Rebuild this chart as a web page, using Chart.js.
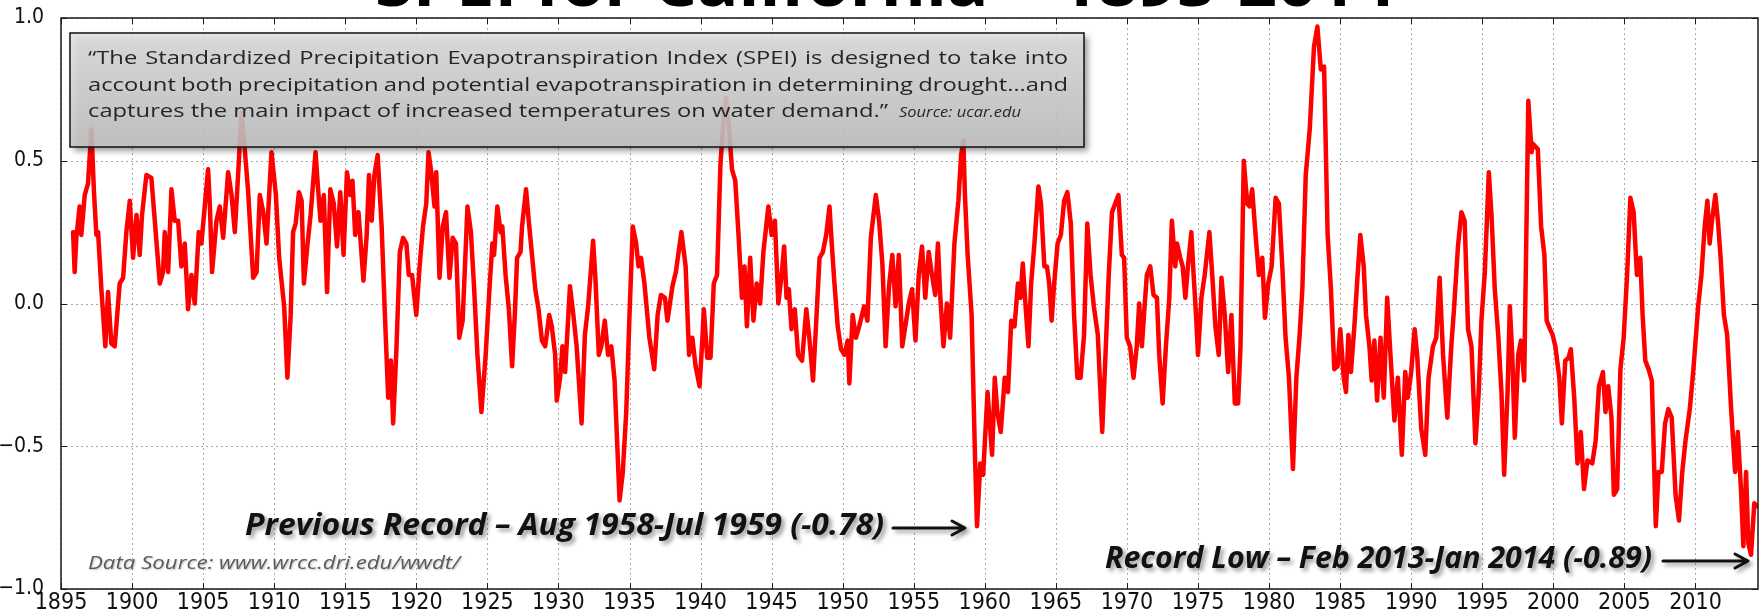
<!DOCTYPE html>
<html>
<head>
<meta charset="utf-8">
<title>SPEI for California 1895-2014</title>
<script src="https://cdn.jsdelivr.net/npm/chart.js@4.4.1/dist/chart.umd.min.js"></script>
<style>
  html, body { margin: 0; padding: 0; background: #fff; }
  #wrap { width: 1762px; height: 615px; overflow: hidden; }
</style>
</head>
<body>
<div id="wrap"><canvas id="chart" width="1762" height="615"></canvas></div>
<script>
// SPEI values, one pair of arrays per stretch of years
const yr1895 = [1895.85, 1895.96, 1896.08, 1896.31, 1896.43, 1896.67, 1896.90, 1897.14, 1897.32, 1897.49, 1897.61, 1897.84, 1898.12, 1898.31, 1898.54, 1898.78, 1899.13, 1899.37, 1899.60, 1899.84, 1900.07, 1900.31, 1900.54, 1900.70, 1901.01, 1901.36, 1901.60, 1901.95, 1902.18, 1902.30, 1902.54, 1902.77, 1903.00, 1903.24, 1903.47, 1903.71, 1903.94, 1904.18, 1904.41, 1904.69, 1904.88, 1905.35, 1905.47, 1905.63, 1905.94, 1906.17, 1906.41, 1906.76, 1907.00, 1907.23, 1907.46, 1907.70, 1907.93, 1908.17, 1908.52, 1908.76, 1908.99, 1909.23, 1909.46, 1909.81];
const spei1895 = [0.25, 0.11, 0.23, 0.34, 0.24, 0.38, 0.42, 0.61, 0.39, 0.24, 0.25, 0.05, -0.15, 0.04, -0.14, -0.15, 0.07, 0.09, 0.25, 0.36, 0.16, 0.31, 0.17, 0.31, 0.45, 0.44, 0.29, 0.07, 0.11, 0.25, 0.11, 0.40, 0.29, 0.29, 0.13, 0.21, -0.02, 0.10, 0.00, 0.25, 0.21, 0.47, 0.35, 0.11, 0.29, 0.34, 0.23, 0.46, 0.38, 0.25, 0.45, 0.67, 0.54, 0.39, 0.09, 0.11, 0.38, 0.32, 0.21, 0.53];

const yr1910 = [1910.12, 1910.35, 1910.70, 1910.93, 1911.16, 1911.33, 1911.51, 1911.74, 1911.93, 1912.09, 1912.33, 1912.56, 1912.91, 1913.09, 1913.26, 1913.49, 1913.72, 1913.95, 1914.19, 1914.42, 1914.65, 1914.88, 1915.12, 1915.35, 1915.51, 1915.70, 1915.93, 1916.28, 1916.51, 1916.67, 1916.86, 1917.05, 1917.28, 1917.56, 1917.79, 1918.02, 1918.21, 1918.37, 1918.60, 1918.84, 1919.07, 1919.30, 1919.47, 1919.70, 1920.00, 1920.23, 1920.47, 1920.70, 1920.86, 1921.05, 1921.28, 1921.40, 1921.63, 1921.86, 1922.09, 1922.33, 1922.56, 1922.79, 1923.02, 1923.26, 1923.60, 1923.84, 1924.07, 1924.30, 1924.58];
const spei1910 = [0.38, 0.16, -0.01, -0.26, -0.04, 0.25, 0.28, 0.39, 0.36, 0.07, 0.20, 0.31, 0.53, 0.40, 0.29, 0.38, 0.04, 0.40, 0.35, 0.20, 0.39, 0.17, 0.46, 0.38, 0.43, 0.24, 0.32, 0.08, 0.24, 0.45, 0.29, 0.45, 0.52, 0.27, -0.04, -0.33, -0.20, -0.42, -0.16, 0.18, 0.23, 0.21, 0.10, 0.10, -0.04, 0.13, 0.27, 0.35, 0.53, 0.46, 0.34, 0.46, 0.09, 0.27, 0.32, 0.09, 0.23, 0.21, -0.12, -0.06, 0.34, 0.25, 0.05, -0.18, -0.38];

const yr1925 = [1924.88, 1925.12, 1925.35, 1925.47, 1925.70, 1925.93, 1926.05, 1926.28, 1926.51, 1926.74, 1926.93, 1927.09, 1927.33, 1927.44, 1927.72, 1927.91, 1928.14, 1928.37, 1928.60, 1928.84, 1929.07, 1929.35, 1929.53, 1929.77, 1929.88, 1930.12, 1930.28, 1930.47, 1930.81, 1931.05, 1931.28, 1931.63, 1931.86, 1932.09, 1932.44, 1932.60, 1932.84, 1933.02, 1933.26, 1933.49, 1933.72, 1933.95, 1934.30, 1934.53, 1934.77, 1935.00, 1935.23, 1935.47, 1935.63, 1935.81, 1936.05, 1936.40, 1936.74, 1936.98, 1937.21, 1937.49, 1937.67, 1938.02, 1938.26, 1938.65, 1938.95];
const spei1925 = [-0.18, 0.03, 0.21, 0.17, 0.34, 0.25, 0.27, 0.10, -0.02, -0.22, -0.04, 0.16, 0.18, 0.27, 0.40, 0.29, 0.17, 0.05, -0.02, -0.13, -0.15, -0.04, -0.08, -0.18, -0.34, -0.26, -0.15, -0.24, 0.06, -0.04, -0.15, -0.42, -0.11, -0.01, 0.22, 0.09, -0.18, -0.15, -0.06, -0.18, -0.15, -0.27, -0.69, -0.59, -0.38, -0.04, 0.27, 0.21, 0.13, 0.16, 0.07, -0.12, -0.23, -0.04, 0.03, 0.02, -0.06, 0.06, 0.11, 0.25, 0.13];

const yr1939 = [1939.19, 1939.42, 1939.65, 1939.93, 1940.12, 1940.23, 1940.47, 1940.70, 1940.93, 1941.16, 1941.40, 1941.63, 1941.79, 1941.98, 1942.21, 1942.44, 1942.67, 1942.91, 1943.09, 1943.26, 1943.49, 1943.72, 1943.95, 1944.19, 1944.42, 1944.77, 1945.00, 1945.23, 1945.47, 1945.70, 1945.88, 1946.05, 1946.21, 1946.40, 1946.63, 1946.86, 1947.14, 1947.44, 1947.67, 1947.91, 1948.14, 1948.37, 1948.60, 1948.84, 1949.07, 1949.23, 1949.42, 1949.65, 1949.88, 1950.12, 1950.35, 1950.47, 1950.70, 1950.93, 1951.16, 1951.51, 1951.74, 1951.98, 1952.33, 1952.56, 1952.79, 1953.02, 1953.26, 1953.49, 1953.72, 1953.95, 1954.19];
const spei1939 = [-0.18, -0.12, -0.22, -0.29, -0.13, -0.02, -0.19, -0.19, 0.07, 0.10, 0.49, 0.65, 0.72, 0.63, 0.47, 0.43, 0.24, 0.02, 0.13, -0.08, 0.16, -0.06, 0.07, 0.00, 0.18, 0.34, 0.24, 0.29, 0.00, 0.10, 0.20, 0.02, 0.05, -0.09, -0.02, -0.18, -0.20, -0.02, -0.13, -0.27, -0.06, 0.16, 0.18, 0.24, 0.34, 0.21, 0.07, -0.08, -0.16, -0.18, -0.13, -0.28, -0.04, -0.12, -0.08, -0.01, -0.06, 0.23, 0.38, 0.29, 0.14, -0.15, 0.06, 0.17, -0.01, 0.17, -0.15];

const yr1954 = [1954.65, 1954.88, 1955.12, 1955.35, 1955.58, 1955.81, 1956.05, 1956.28, 1956.51, 1956.70, 1956.86, 1957.09, 1957.33, 1957.56, 1957.86, 1958.14, 1958.33, 1958.49, 1958.60, 1958.79, 1959.07, 1959.30, 1959.45, 1959.68, 1959.88, 1960.19, 1960.35, 1960.51, 1960.70, 1960.88, 1961.12, 1961.40, 1961.63, 1961.86, 1962.09, 1962.33, 1962.51, 1962.67, 1962.91, 1963.07, 1963.26, 1963.49, 1963.77, 1963.95, 1964.19, 1964.37, 1964.53, 1964.70, 1964.88, 1965.12, 1965.35, 1965.58, 1965.81, 1966.05, 1966.28, 1966.51, 1966.74, 1966.98, 1967.21, 1967.44, 1967.67, 1967.95, 1968.26, 1968.49, 1968.72, 1968.95];
const spei1954 = [0.00, 0.05, -0.13, 0.10, 0.20, 0.02, 0.18, 0.10, 0.03, 0.21, 0.03, -0.15, 0.00, -0.12, 0.21, 0.36, 0.52, 0.57, 0.38, 0.17, -0.04, -0.52, -0.78, -0.56, -0.60, -0.31, -0.42, -0.53, -0.26, -0.38, -0.45, -0.26, -0.31, -0.06, -0.08, 0.07, 0.02, 0.14, -0.04, -0.15, 0.07, 0.21, 0.41, 0.35, 0.13, 0.13, 0.07, -0.06, 0.07, 0.21, 0.24, 0.36, 0.39, 0.28, -0.04, -0.26, -0.26, -0.11, 0.28, 0.10, -0.01, -0.11, -0.45, -0.18, 0.10, 0.32];

const yr1969 = [1969.40, 1969.64, 1969.80, 1969.99, 1970.22, 1970.46, 1970.69, 1970.86, 1971.05, 1971.24, 1971.40, 1971.64, 1971.87, 1972.11, 1972.27, 1972.51, 1972.74, 1972.98, 1973.16, 1973.40, 1973.52, 1973.75, 1973.92, 1974.11, 1974.29, 1974.53, 1974.69, 1974.86, 1975.00, 1975.24, 1975.47, 1975.80, 1976.04, 1976.22, 1976.46, 1976.65, 1976.88, 1977.12, 1977.35, 1977.59, 1977.82, 1977.99, 1978.22, 1978.46, 1978.62, 1978.81, 1979.05, 1979.28, 1979.52, 1979.71, 1979.94, 1980.18, 1980.46, 1980.69, 1980.93, 1981.16, 1981.40, 1981.68, 1981.92, 1982.15, 1982.34, 1982.58, 1982.86, 1983.16, 1983.40, 1983.64, 1983.87];
const spei1969 = [0.38, 0.17, 0.16, -0.12, -0.15, -0.26, -0.15, 0.00, -0.15, -0.01, 0.10, 0.13, 0.03, 0.02, -0.18, -0.35, -0.15, 0.02, 0.29, 0.13, 0.21, 0.16, 0.13, 0.02, 0.13, 0.25, 0.10, -0.04, -0.18, 0.02, 0.10, 0.25, 0.07, -0.08, -0.18, 0.09, -0.04, -0.24, -0.04, -0.35, -0.35, -0.15, 0.50, 0.35, 0.34, 0.40, 0.24, 0.10, 0.16, -0.05, 0.07, 0.13, 0.37, 0.35, 0.13, -0.12, -0.26, -0.58, -0.26, -0.11, 0.05, 0.45, 0.61, 0.90, 0.97, 0.82, 0.83];

const yr1984 = [1984.12, 1984.35, 1984.59, 1984.82, 1985.01, 1985.25, 1985.41, 1985.58, 1985.76, 1986.00, 1986.19, 1986.42, 1986.66, 1986.82, 1987.06, 1987.22, 1987.41, 1987.60, 1987.84, 1988.07, 1988.31, 1988.54, 1988.82, 1989.06, 1989.34, 1989.58, 1989.76, 1990.00, 1990.24, 1990.42, 1990.71, 1990.99, 1991.22, 1991.53, 1991.76, 1992.00, 1992.24, 1992.54, 1992.82, 1993.01, 1993.29, 1993.53, 1993.76, 1994.00, 1994.24, 1994.52, 1994.75, 1994.94, 1995.18, 1995.46, 1995.65, 1995.88, 1996.12, 1996.35, 1996.54, 1996.78, 1996.94, 1997.11, 1997.29, 1997.53, 1997.72, 1997.95, 1998.24, 1998.47];
const spei1984 = [0.24, 0.05, -0.23, -0.22, -0.09, -0.26, -0.31, -0.11, -0.24, -0.08, 0.07, 0.24, 0.13, -0.04, -0.15, -0.27, -0.13, -0.34, -0.12, -0.33, 0.02, -0.18, -0.41, -0.26, -0.53, -0.24, -0.33, -0.24, -0.09, -0.18, -0.44, -0.53, -0.26, -0.15, -0.12, 0.09, -0.18, -0.40, -0.15, -0.02, 0.20, 0.32, 0.29, -0.09, -0.15, -0.49, -0.31, -0.06, 0.11, 0.46, 0.31, 0.05, -0.11, -0.31, -0.60, -0.31, -0.01, -0.18, -0.47, -0.18, -0.13, -0.27, 0.71, 0.53];

const yr1998 = [1998.56, 1998.91, 1999.14, 1999.37, 1999.53, 1999.77, 1999.95, 2000.14, 2000.42, 2000.60, 2000.84, 2001.07, 2001.23, 2001.47, 2001.70, 2001.93, 2002.16, 2002.40, 2002.74, 2002.98, 2003.21, 2003.49, 2003.67, 2003.86, 2004.09, 2004.26, 2004.49, 2004.72, 2004.95, 2005.19, 2005.42, 2005.65, 2005.88, 2006.12, 2006.28, 2006.47, 2006.70, 2006.93, 2007.21, 2007.40, 2007.63, 2007.86, 2008.09, 2008.33, 2008.60, 2008.84, 2009.07, 2009.30, 2009.60, 2009.84, 2010.07, 2010.19, 2010.42, 2010.65, 2010.84, 2011.00, 2011.16, 2011.40, 2011.58, 2011.77, 2012.00, 2012.23, 2012.51, 2012.79, 2012.98, 2013.21, 2013.37, 2013.56, 2013.72, 2013.91, 2014.14, 2014.33];
const spei1998 = [0.56, 0.54, 0.27, 0.17, -0.06, -0.09, -0.11, -0.15, -0.26, -0.42, -0.20, -0.19, -0.16, -0.33, -0.56, -0.45, -0.65, -0.55, -0.56, -0.48, -0.29, -0.24, -0.38, -0.29, -0.40, -0.67, -0.65, -0.23, -0.12, 0.10, 0.37, 0.32, 0.10, 0.16, -0.04, -0.20, -0.23, -0.27, -0.78, -0.59, -0.59, -0.42, -0.37, -0.40, -0.67, -0.76, -0.59, -0.48, -0.37, -0.24, -0.09, -0.01, 0.10, 0.27, 0.36, 0.21, 0.29, 0.38, 0.29, 0.16, -0.04, -0.11, -0.37, -0.59, -0.45, -0.66, -0.85, -0.59, -0.84, -0.88, -0.70, -0.71];

// axis ticks
const xTickYears = [1895, 1900, 1905, 1910, 1915, 1920, 1925, 1930, 1935, 1940, 1945, 1950, 1955, 1960, 1965, 1970, 1975, 1980, 1985, 1990, 1995, 2000, 2005, 2010];
const yTickValues = [-1.0, -0.5, 0.0, 0.5, 1.0];

const quoteLines = [
  '\u201CThe Standardized Precipitation Evapotranspiration Index (SPEI) is designed to take into',
  'account both precipitation and potential evapotranspiration in determining drought\u2026and',
  'captures the main impact of increased temperatures on water demand.\u201D'
];

const CONDENSED = '"DejaVu Sans Condensed", "DejaVu Sans", sans-serif';
const TEXTFONT = '"Open Sans", "Noto Sans", sans-serif';

const parts = [
  [yr1895, spei1895], [yr1910, spei1910], [yr1925, spei1925], [yr1939, spei1939],
  [yr1954, spei1954], [yr1969, spei1969], [yr1984, spei1984], [yr1998, spei1998]
];
const points = [];
parts.forEach(([ys, vs]) => {
  if (ys.length !== vs.length) console.warn('length mismatch', ys[0], ys.length, vs.length);
  const n = Math.min(ys.length, vs.length);
  for (let i = 0; i < n; i++) points.push({ x: ys[i], y: vs[i] });
});

// draw text squeezed/stretched to a given width
function fitText(ctx, text, x, y, width) {
  const w = ctx.measureText(text).width;
  ctx.save();
  ctx.translate(x, y);
  ctx.scale(width / w, 1);
  ctx.fillText(text, 0, 0);
  ctx.restore();
}

function drawArrow(ctx, x1, x2, y) {
  ctx.beginPath();
  ctx.moveTo(x1, y);
  ctx.lineTo(x2 - 2, y);
  ctx.moveTo(x2 - 13, y - 7);
  ctx.lineTo(x2, y);
  ctx.lineTo(x2 - 13, y + 7);
  ctx.stroke();
}

const bgPlugin = {
  id: 'bg',
  beforeDraw(chart) {
    const ctx = chart.ctx;
    ctx.save();
    ctx.fillStyle = '#fff';
    ctx.fillRect(0, 0, chart.width, chart.height);
    ctx.restore();
  }
};

const gridPlugin = {
  id: 'dottedGrid',
  beforeDatasetsDraw(chart) {
    const { ctx, chartArea: a, scales: { x, y } } = chart;
    ctx.save();
    ctx.strokeStyle = '#a8a8a8';
    ctx.lineWidth = 1;
    ctx.setLineDash([2, 3]);
    xTickYears.forEach(v => {
      const px = Math.round(x.getPixelForValue(v)) + 0.5;
      ctx.beginPath(); ctx.moveTo(px, a.top); ctx.lineTo(px, a.bottom); ctx.stroke();
    });
    yTickValues.forEach(v => {
      const py = Math.round(y.getPixelForValue(v)) + 0.5;
      ctx.beginPath(); ctx.moveTo(a.left, py); ctx.lineTo(a.right, py); ctx.stroke();
    });
    ctx.restore();
  }
};

const overlayPlugin = {
  id: 'overlay',
  afterDatasetsDraw(chart) {
    const { ctx, chartArea: a, scales: { x, y } } = chart;

    // frame and inward ticks
    ctx.save();
    ctx.strokeStyle = '#1a1a1a';
    ctx.lineWidth = 1.5;
    ctx.strokeRect(a.left, a.top, a.right - a.left, a.bottom - a.top);
    ctx.lineWidth = 1;
    xTickYears.forEach(v => {
      const px = Math.round(x.getPixelForValue(v)) + 0.5;
      ctx.beginPath();
      ctx.moveTo(px, a.bottom); ctx.lineTo(px, a.bottom - 6);
      ctx.moveTo(px, a.top); ctx.lineTo(px, a.top + 6);
      ctx.stroke();
    });
    yTickValues.forEach(v => {
      const py = Math.round(y.getPixelForValue(v)) + 0.5;
      ctx.beginPath();
      ctx.moveTo(a.left, py); ctx.lineTo(a.left + 6, py);
      ctx.moveTo(a.right, py); ctx.lineTo(a.right - 6, py);
      ctx.stroke();
    });
    ctx.restore();

    // title, only its lower edge is inside the picture
    ctx.save();
    ctx.fillStyle = '#000';
    ctx.textBaseline = 'alphabetic';
    ctx.font = 'bold 60px ' + TEXTFONT;
    fitText(ctx, 'SPEI for California \u2013 1895-2014', 375, 6, 1020);
    ctx.restore();

    // quote box
    const bx = 70, by = 33, bw = 1014, bh = 114;
    ctx.save();
    ctx.shadowColor = 'rgba(0,0,0,0.45)';
    ctx.shadowBlur = 6;
    ctx.shadowOffsetX = 4;
    ctx.shadowOffsetY = 4;
    const g = ctx.createLinearGradient(0, by, 0, by + bh);
    g.addColorStop(0, 'rgba(226,226,226,0.86)');
    g.addColorStop(1, 'rgba(196,196,196,0.86)');
    ctx.fillStyle = g;
    ctx.fillRect(bx, by, bw, bh);
    ctx.restore();
    ctx.save();
    ctx.strokeStyle = '#111';
    ctx.lineWidth = 1.5;
    ctx.strokeRect(bx, by, bw, bh);

    ctx.fillStyle = '#262626';
    ctx.textBaseline = 'middle';
    ctx.font = '18px ' + TEXTFONT;
    const lineY = [59, 86, 112];
    const left = 88, right = 1068;
    const spaceW = ctx.measureText(' ').width;
    // horizontal stretch chosen so the last line ends where it does in the picture
    const last = quoteLines[2];
    const sx = 800 / ctx.measureText(last).width;
    quoteLines.forEach((line, i) => {
      const words = line.split(' ');
      const widths = words.map(w => ctx.measureText(w).width * sx);
      const total = widths.reduce((s, w) => s + w, 0);
      const gap = i < 2 ? (right - left - total) / (words.length - 1) : spaceW * sx;
      let cx = left;
      words.forEach((w, k) => {
        ctx.save();
        ctx.translate(cx, lineY[i]);
        ctx.scale(sx, 1);
        ctx.fillText(w, 0, 0);
        ctx.restore();
        cx += widths[k] + gap;
      });
    });
    ctx.font = 'italic 14px ' + TEXTFONT;
    fitText(ctx, 'Source: ucar.edu', 899, lineY[2] + 1, 122);
    ctx.restore();

    // record annotations
    ctx.save();
    ctx.shadowColor = 'rgba(0,0,0,0.4)';
    ctx.shadowBlur = 4;
    ctx.shadowOffsetX = 3;
    ctx.shadowOffsetY = 3;
    ctx.fillStyle = '#111';
    ctx.strokeStyle = '#111';
    ctx.textBaseline = 'middle';
    ctx.font = 'italic bold 31px ' + TEXTFONT;
    fitText(ctx, 'Previous Record \u2013 Aug 1958-Jul 1959 (-0.78)', 245, 526, 639);
    fitText(ctx, 'Record Low \u2013 Feb 2013-Jan 2014 (-0.89)', 1105, 559, 547);
    ctx.lineWidth = 3;
    ctx.lineCap = 'round';
    ctx.lineJoin = 'round';
    drawArrow(ctx, 893, 965, 528);
    drawArrow(ctx, 1663, 1748, 561);
    ctx.restore();

    ctx.save();
    ctx.shadowColor = 'rgba(0,0,0,0.25)';
    ctx.shadowBlur = 2;
    ctx.shadowOffsetX = 1;
    ctx.shadowOffsetY = 1;
    ctx.fillStyle = '#5a5a5a';
    ctx.textBaseline = 'middle';
    ctx.font = 'italic 19px ' + TEXTFONT;
    fitText(ctx, 'Data Source: www.wrcc.dri.edu/wwdt/', 88, 564, 372);
    ctx.restore();
  }
};

new Chart(document.getElementById('chart'), {
  type: 'line',
  data: {
    datasets: [{
      data: points,
      borderColor: '#ff0000',
      borderWidth: 4.5,
      pointRadius: 0,
      tension: 0,
      fill: false,
      borderJoinStyle: 'round',
      borderCapStyle: 'round'
    }]
  },
  options: {
    responsive: false,
    animation: false,
    devicePixelRatio: 1,
    layout: { padding: { top: 18, right: 4, left: 0, bottom: 0 } },
    plugins: { legend: { display: false }, tooltip: { enabled: false } },
    scales: {
      x: {
        type: 'linear',
        min: 1895,
        max: 2014.4,
        afterBuildTicks: s => { s.ticks = xTickYears.map(v => ({ value: v })); },
        afterFit: s => { s.height = 26; s.paddingLeft = 0; s.paddingRight = 0; },
        grid: { display: false, drawTicks: false },
        border: { display: false },
        ticks: {
          autoSkip: false, maxRotation: 0, minRotation: 0, padding: 0,
          color: '#111', font: { family: CONDENSED, size: 23 },
          callback: v => String(v)
        }
      },
      y: {
        min: -1,
        max: 1,
        afterBuildTicks: s => { s.ticks = yTickValues.map(v => ({ value: v })); },
        afterFit: s => { s.width = 61; s.paddingTop = 0; s.paddingBottom = 0; },
        grid: { display: false, drawTicks: false },
        border: { display: false },
        ticks: {
          padding: 17, color: '#111', font: { family: CONDENSED, size: 21 },
          callback: v => v.toFixed(1).replace('-', '\u2212')
        }
      }
    }
  },
  plugins: [bgPlugin, gridPlugin, overlayPlugin]
});
</script>
</body>
</html>
